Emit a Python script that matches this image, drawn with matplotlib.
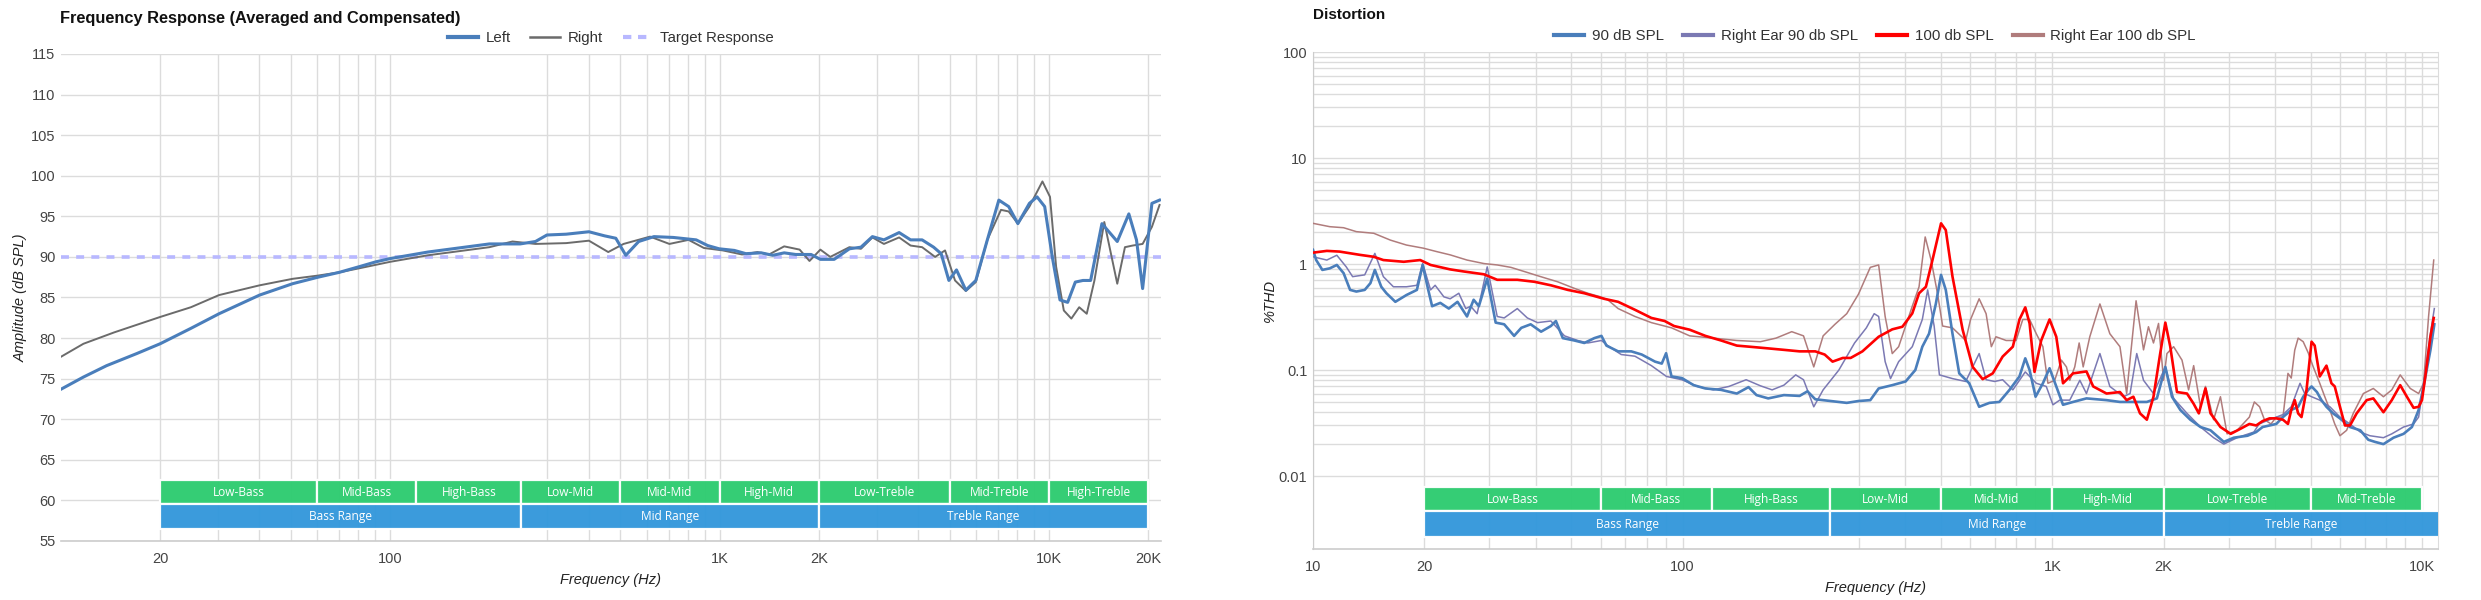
import numpy as np
import matplotlib
matplotlib.use("Agg")
import matplotlib.pyplot as plt
from matplotlib.patches import Rectangle
from matplotlib.ticker import FixedLocator, NullFormatter, FixedFormatter
from matplotlib.lines import Line2D

# ---------------- Frequency response data ----------------
fr_left_hz = [10, 11.7, 13.75, 17.0, 20, 24.8, 30.2, 40.1, 50.5, 60.3, 70.0, 80.5, 90.5, 100, 130, 200,
              248, 276, 299, 342, 401, 447, 484, 519, 568, 632, 723, 849, 920, 997, 1109, 1202, 1339,
              1450, 1571, 1703, 1896, 2023, 2228, 2479, 2687, 2911, 3155, 3509, 3802, 4121, 4466, 4708,
              4969, 5241, 5595, 5998, 6502, 7047, 7549, 8050, 8726, 9205, 9710, 10240, 10806, 11400,
              12030, 12690, 13390, 14490, 16130, 17490, 18450, 19260, 20550, 21680]
fr_left_db = [73.7, 75.2, 76.6, 78.1, 79.3, 81.2, 83.0, 85.3, 86.7, 87.5, 88.1, 88.8, 89.4, 89.8, 90.6, 91.6,
              91.6, 91.9, 92.7, 92.8, 93.1, 92.6, 92.3, 90.2, 91.9, 92.5, 92.4, 92.1, 91.4, 91.0, 90.8, 90.4, 90.5,
              90.2, 90.5, 90.3, 90.3, 89.7, 89.7, 91.0, 91.2, 92.5, 92.1, 93.0, 92.1, 92.1, 91.2, 90.4,
              87.1, 88.4, 85.9, 87.1, 92.1, 97.0, 96.2, 94.1, 96.6, 97.4, 96.2, 90.0, 84.7, 84.4,
              86.9, 87.1, 87.1, 94.1, 91.9, 95.3, 92.1, 86.1, 96.6, 97.0]

fr_right_hz = [10, 11.7, 14.5, 20, 24.8, 30.2, 40.1, 50.5, 60.3, 70.0, 80.5, 100, 130, 200, 235,
               276, 342, 401, 459, 511, 615, 704, 805, 896, 1023, 1170, 1303, 1413, 1571, 1750,
               1875, 2023, 2168, 2479, 2687, 2911, 3155, 3509, 3802, 4121, 4513, 4838, 5187, 5595, 5998,
               6502, 7153, 7549, 8050, 8726, 9558, 10077, 10518, 11100, 11700, 12360, 13030, 13750, 14730,
               16130, 17020, 17960, 19260, 20550, 21680]
fr_right_db = [77.7, 79.3, 80.7, 82.6, 83.8, 85.3, 86.5, 87.3, 87.7, 88.1, 88.6, 89.4, 90.2, 91.2, 91.9,
               91.6, 91.7, 92.0, 90.6, 91.6, 92.5, 91.6, 92.1, 91.1, 90.8, 90.3, 90.6, 90.3, 91.3, 90.9,
               89.5, 90.9, 90.0, 91.2, 91.0, 92.4, 91.6, 92.4, 91.4, 91.2, 90.0, 90.8, 87.1, 85.8, 86.9,
               92.1, 95.8, 95.6, 94.1, 96.2, 99.3, 97.4, 88.8, 83.4, 82.4, 83.8, 83.0, 87.1, 94.3,
               86.7, 91.2, 91.4, 91.6, 93.7, 96.4]

target_db = 90
fr_x_ticks = [20, 100, 1000, 2000, 10000, 20000]
fr_x_labels = ["20", "100", "1K", "2K", "10K", "20K"]
fr_y_ticks = list(range(55, 116, 5))

# ---------------- Distortion data ----------------
thd90_hz = [10, 10.2, 10.6, 11.1, 11.6, 12.1, 12.6, 13.1, 13.8, 14.3, 14.7, 15.3, 15.8, 16.7, 17.9, 19.1,
            19.8, 20.5, 21.0, 22.1, 23.3, 24.6, 26.1, 27.2, 28.1, 29.6, 31.2, 32.9, 35.0, 36.6, 38.8, 41.4,
            44.0, 45.4, 47.4, 50.9, 54.2, 57.7, 60.3, 62.2, 66.9, 72.6, 77.5, 84.2, 87.8, 90.2, 93.3,
            99.5, 107.1, 115.2, 127.0, 140.1, 150.7, 158.4, 170.4, 187.9, 207.2, 217.6, 228.4, 251.9,
            277.9, 299.0, 321.8,
            339, 369, 401, 426, 445, 464, 484, 500, 515, 537, 560, 596, 634, 676, 719, 766, 815, 845,
            868, 901, 943, 983, 1025, 1069, 1138, 1237, 1402, 1524, 1657, 1802, 1918, 2022, 2107, 2220,
            2362, 2517, 2679, 2910, 3097, 3374,
            3560, 3706, 3869, 4035, 4207, 4430, 4624, 4772, 4925, 5027, 5198, 5346, 5516, 5748, 6000,
            6386, 6811, 7157, 7461, 7866, 8376, 8916, 9393, 9794, 10100, 10540, 10800]
thd90_pct = [1.36, 1.09, 0.88, 0.91, 0.98, 0.82, 0.57, 0.55, 0.57, 0.66, 0.88, 0.61, 0.53, 0.44, 0.51, 0.57,
             0.98, 0.57, 0.40, 0.43, 0.38, 0.44, 0.32, 0.46, 0.40, 0.73, 0.28, 0.27, 0.21, 0.25, 0.27, 0.23,
             0.26, 0.29, 0.20, 0.19, 0.18, 0.20, 0.21, 0.17, 0.15, 0.15, 0.14, 0.12, 0.115, 0.144, 0.087,
             0.084, 0.072, 0.067, 0.065, 0.060, 0.069, 0.058, 0.054, 0.058, 0.057, 0.063, 0.053, 0.051,
             0.049, 0.051, 0.052,
             0.067, 0.072, 0.078, 0.10, 0.166, 0.22, 0.42, 0.79, 0.57, 0.22, 0.093, 0.075, 0.045, 0.049, 0.050,
             0.065, 0.087, 0.129, 0.10, 0.056, 0.075, 0.104, 0.070, 0.047, 0.050, 0.054, 0.052, 0.050,
             0.050, 0.050, 0.054, 0.107, 0.056, 0.042, 0.034, 0.029, 0.027, 0.021, 0.023, 0.024,
             0.026, 0.029, 0.030, 0.031, 0.036, 0.042, 0.045, 0.056, 0.065, 0.070, 0.062, 0.052, 0.045,
             0.039, 0.035, 0.029, 0.027, 0.022, 0.021, 0.020, 0.023, 0.025, 0.029, 0.042, 0.070, 0.154, 0.27]

thd90r_hz = [10, 10.9, 11.6, 12.3, 12.8, 13.8, 14.7, 15.5, 16.5, 17.9, 19.1, 19.8, 20.8, 21.4, 22.6,
             23.5, 24.8, 25.9, 26.7, 27.8, 29.6, 31.5, 32.9, 35.7, 38.0, 40.5, 44.0, 47.9, 52.0, 55.4,
             60.3, 62.7, 68.2, 74.3, 82.3, 90.4,
             99.5, 109.7, 121.0, 133.4, 148.5, 162.3, 174.6, 187.9, 202.2, 212.3, 226.3, 239.9, 264.6,
             291.8, 314.0, 329.7,
             339, 353, 365, 384, 418, 445, 460, 479, 495, 537, 583, 634, 662, 698, 734, 782, 845, 905,
             963, 1004, 1047, 1115, 1187, 1237, 1345, 1431, 1557, 1623, 1692, 1765, 1878, 2022, 2129,
             2314, 2517, 2731, 2910, 3162, 3510,
             3627, 3869, 4207, 4430, 4678, 4817, 5027, 5291, 5635, 6000, 6386, 6811, 7230, 7866, 8286,
             8916, 9491, 9794, 10100, 10540, 10800]
thd90r_pct = [1.17, 1.09, 1.21, 0.94, 0.76, 0.79, 1.26, 0.76, 0.61, 0.61, 0.63, 1.01, 0.57, 0.63, 0.49,
              0.47, 0.53, 0.38, 0.40, 0.34, 0.94, 0.32, 0.31, 0.38, 0.31, 0.28, 0.29, 0.21, 0.19, 0.18,
              0.19, 0.17, 0.14, 0.135, 0.11, 0.087,
              0.081, 0.070, 0.065, 0.070, 0.081, 0.071, 0.065, 0.072, 0.090, 0.081, 0.045, 0.065, 0.10,
              0.18, 0.25, 0.34,
              0.32, 0.12, 0.083, 0.12, 0.166, 0.30, 0.57, 0.26, 0.09, 0.083, 0.078, 0.143, 0.081, 0.078,
              0.081, 0.065, 0.096, 0.075, 0.070, 0.047, 0.052, 0.052, 0.080, 0.060, 0.143, 0.070, 0.056,
              0.060, 0.143, 0.080, 0.060, 0.107, 0.054, 0.039, 0.029, 0.023, 0.020, 0.023, 0.026,
              0.031, 0.034, 0.038, 0.045, 0.075, 0.060, 0.056, 0.052, 0.045, 0.036, 0.031, 0.026, 0.024,
              0.023, 0.025, 0.029, 0.031, 0.036, 0.075, 0.22, 0.38]

thd100_hz = [10, 10.9, 11.8, 13.4, 14.6, 15.5, 17.6, 19.5, 20.8, 23.5, 25.6, 29.0, 31.5, 35.7, 39.7,
             44.0, 48.9, 54.2, 61.3, 66.9, 74.3, 82.3, 89.4,
             94.8, 104.5, 115.2, 127.0, 140.1, 154.5, 170.4, 187.9, 207.2, 228.4, 242.2, 254.4, 271.2,
             284.7, 306.4,
             339, 369, 393, 418, 436, 455, 474, 500, 515, 537, 572, 609, 648, 690, 734, 782, 815, 845,
             868, 895, 933, 983, 1025, 1069, 1138, 1237, 1290, 1402, 1524, 1589, 1657, 1727, 1802, 1878,
             1958, 2022, 2085, 2174, 2314, 2412, 2491, 2596, 2679, 2850, 3038, 3234,
             3413, 3560, 3706, 3869, 4035, 4207, 4340, 4430, 4527, 4624, 4722, 4872, 5027, 5126, 5291,
             5516, 5689, 5808, 6000, 6190, 6386, 6657, 7085, 7386, 7866, 8286, 8732, 9103, 9491, 9794,
             10000, 10210, 10540, 10760]
thd100_pct = [1.28, 1.33, 1.31, 1.22, 1.17, 1.09, 1.05, 1.09, 0.98, 0.89, 0.85, 0.80, 0.71, 0.71, 0.68,
              0.63, 0.57, 0.53, 0.47, 0.44, 0.37, 0.31, 0.29,
              0.26, 0.24, 0.21, 0.19, 0.17, 0.165, 0.16, 0.155, 0.15, 0.15, 0.14, 0.12, 0.13,
              0.13, 0.15,
              0.206, 0.242, 0.256, 0.342, 0.53, 0.61, 1.09, 2.42, 2.09, 0.76, 0.24, 0.107, 0.082, 0.093,
              0.134, 0.166, 0.30, 0.39, 0.275, 0.096, 0.19, 0.30, 0.206, 0.075, 0.093, 0.097, 0.070, 0.060,
              0.062, 0.052, 0.056, 0.039, 0.034, 0.056, 0.143, 0.28, 0.166, 0.062, 0.060, 0.048, 0.039,
              0.067, 0.039, 0.029, 0.025, 0.028,
              0.031, 0.030, 0.033, 0.035, 0.035, 0.034, 0.031, 0.042, 0.052, 0.039, 0.036, 0.065, 0.185,
              0.17, 0.087, 0.11, 0.075, 0.070, 0.045, 0.030, 0.030, 0.039, 0.052, 0.054, 0.040, 0.052,
              0.072, 0.056, 0.044, 0.045, 0.052, 0.087, 0.206, 0.31]

thd100r_hz = [10, 11.1, 12.1, 13.1, 14.6, 16.2, 17.9, 19.9, 21.6, 23.5, 26.1, 29.0, 31.5, 34.3, 38.1,
              41.3, 45.9, 50.9, 55.4, 60.0, 62.7, 66.9, 74.3, 82.3, 93.3,
              104.5, 121.0, 140.1, 162.3, 178.9, 197.3, 212.3, 226.3, 239.9, 258.2, 277.9, 299.0, 321.8,
              339, 353, 369, 384, 418, 436, 453, 470, 489, 505, 537, 583, 601, 634, 662, 684, 704, 750,
              798, 832, 868, 905, 943, 973, 1015, 1058, 1092, 1115, 1150, 1182, 1212, 1263, 1345, 1431,
              1524, 1589, 1685, 1765, 1820, 1878, 1938, 2000, 2042, 2129, 2243, 2337, 2412, 2517, 2596,
              2731, 2850, 2970, 3162, 3413,
              3520, 3637, 3748, 3905, 4035, 4207, 4340, 4430, 4527, 4624, 4772, 4925, 5075, 5291, 5459,
              5635, 5808, 6000, 6254, 6518, 6941, 7386, 7866, 8286, 8732, 9296, 9794, 10100, 10420, 10760]
thd100r_pct = [2.42, 2.25, 2.20, 2.02, 1.95, 1.68, 1.51, 1.41, 1.31, 1.22, 1.09, 1.01, 0.98, 0.93, 0.83,
               0.76, 0.68, 0.59, 0.53, 0.49, 0.46, 0.38, 0.32, 0.28, 0.25,
               0.21, 0.20, 0.19, 0.185, 0.20, 0.23, 0.21, 0.107, 0.21, 0.27, 0.34, 0.52, 0.93,
               0.98, 0.32, 0.143, 0.166, 0.40, 0.61, 1.8, 1.09, 0.53, 0.26, 0.25, 0.19, 0.30, 0.47, 0.34,
               0.166, 0.206, 0.19, 0.19, 0.30, 0.30, 0.22, 0.166, 0.075, 0.080, 0.124, 0.107, 0.080, 0.107,
               0.18, 0.107, 0.206, 0.42, 0.22, 0.166, 0.060, 0.45, 0.155, 0.256, 0.18, 0.275, 0.080, 0.143,
               0.166, 0.124, 0.065, 0.11, 0.045, 0.07, 0.034, 0.056, 0.025, 0.027, 0.036,
               0.050, 0.045, 0.034, 0.031, 0.036, 0.036, 0.093, 0.084, 0.154, 0.20, 0.185, 0.145, 0.108,
               0.075, 0.056, 0.042, 0.031, 0.024, 0.027, 0.039, 0.060, 0.067, 0.056, 0.065, 0.090, 0.067,
               0.060, 0.075, 0.32, 1.09]

thd_x_ticks = [10, 20, 100, 1000, 2000, 10000]
thd_x_labels = ["10", "20", "100", "1K", "2K", "10K"]
thd_y_ticks = [0.01, 0.1, 1, 10, 100]
thd_y_labels = ["0.01", "0.1", "1", "10", "100"]

# ---------------- Range bands ----------------
band_names = ["Low-Bass", "Mid-Bass", "High-Bass", "Low-Mid", "Mid-Mid", "High-Mid",
              "Low-Treble", "Mid-Treble", "High-Treble"]
band_edges = [20, 60, 120, 250, 500, 1000, 2000, 5000, 10000, 20000]
range_names = ["Bass Range", "Mid Range", "Treble Range"]
range_edges = [20, 250, 2000, 20000]

# ---------------- Styling ----------------
FONT = ["Liberation Sans", "DejaVu Sans"]
plt.rcParams["font.family"] = FONT
GRID = "#dcdcdc"
TICKC = "#444444"
GREEN = "#2ecc71"
BLUE = "#3498db"

W, H = 2481, 600
fig = plt.figure(figsize=(W / 100, H / 100), dpi=100)
fig.patch.set_facecolor("white")

ax1 = fig.add_axes([61 / W, 1 - 541 / H, 1100 / W, 487 / H])
ax2 = fig.add_axes([1313 / W, 1 - 549 / H, 1125 / W, 497 / H])


def style_axes(ax):
    for s in ["top", "right", "left"]:
        ax.spines[s].set_visible(False)
    ax.spines["bottom"].set_color("#cccccc")
    ax.spines["bottom"].set_linewidth(1.2)
    ax.tick_params(which="both", length=0, colors=TICKC, labelsize=10.5)
    ax.tick_params(axis="x", pad=8)
    ax.tick_params(axis="y", pad=4)
    ax.grid(True, which="both", color=GRID, linewidth=1.0)
    ax.set_axisbelow(True)


def draw_bands(ax, xmax, names, edges, rnames, redges, max_band):
    tr = ax.get_xaxis_transform()
    for i in range(max_band):
        x0, x1 = edges[i], edges[i + 1]
        ax.add_patch(Rectangle((x0, 0.0755), x1 - x0, 0.0495, transform=tr, facecolor=GREEN,
                               edgecolor="white", linewidth=1.6, alpha=0.97, zorder=3))
        xc = np.sqrt(x0 * x1)
        ax.text(xc, 0.1, names[i], transform=tr, ha="center", va="center", color="white",
                fontsize=8.6, family=["Open Sans", "DejaVu Sans"], zorder=4)
    for i in range(len(rnames)):
        x0, x1 = redges[i], redges[i + 1]
        ax.add_patch(Rectangle((x0, 0.0246), x1 - x0, 0.0509, transform=tr, facecolor=BLUE,
                               edgecolor="white", linewidth=1.6, alpha=0.97, zorder=3))
        xc = np.sqrt(x0 * min(x1, xmax))
        ax.text(xc, 0.05, rnames[i], transform=tr, ha="center", va="center", color="white",
                fontsize=8.6, family=["Open Sans", "DejaVu Sans"], zorder=4)


# ---------------- Left chart ----------------
style_axes(ax1)
ax1.set_xscale("log")
ax1.set_xlim(10, 21900)
ax1.set_ylim(55, 115)
ax1.xaxis.set_major_locator(FixedLocator(fr_x_ticks))
ax1.xaxis.set_major_formatter(FixedFormatter(fr_x_labels))
ax1.xaxis.set_minor_locator(FixedLocator([k * 10 ** e for e in (1, 2, 3) for k in range(3, 10)]))
ax1.xaxis.set_minor_formatter(NullFormatter())
ax1.yaxis.set_major_locator(FixedLocator(fr_y_ticks))
ax1.yaxis.set_minor_locator(FixedLocator([]))

ax1.axhline(target_db, color="#b8b8ff", linewidth=2.6, linestyle=(0, (2.2, 2.0)), zorder=5)
ax1.plot(fr_right_hz, fr_right_db, color="#6b6b6b", linewidth=1.4, zorder=6)
ax1.plot(fr_left_hz, fr_left_db, color="#4a7ebb", linewidth=2.2, zorder=7)
draw_bands(ax1, 21900, band_names, band_edges, range_names, range_edges, 9)

ax1.set_xlabel("Frequency (Hz)", fontsize=10.5, fontstyle="italic", color="#222222", labelpad=5)
ax1.set_ylabel("Amplitude (dB SPL)", fontsize=10.5, fontstyle="italic", color="#222222", labelpad=2)

fig.text(60 / W, 1 - 19 / H, "Frequency Response (Averaged and Compensated)", fontsize=11.8,
         fontweight="bold", va="center", ha="left", color="#111111")
h1 = [Line2D([], [], color="#4a7ebb", linewidth=3),
      Line2D([], [], color="#6b6b6b", linewidth=1.8),
      Line2D([], [], color="#b8b8ff", linewidth=3, linestyle=(0, (2, 1.6)))]
fig.legend(h1, ["Left", "Right", "Target Response"], loc="center", ncol=3, frameon=False,
           bbox_to_anchor=(611 / W, 1 - 38 / H), fontsize=10.8, handlelength=2.0,
           columnspacing=1.3, handletextpad=0.5, labelcolor="#333333")

# ---------------- Right chart ----------------
style_axes(ax2)
ax2.spines["left"].set_visible(True)
ax2.spines["left"].set_color("#cccccc")
ax2.spines["right"].set_visible(True)
ax2.spines["right"].set_color(GRID)
ax2.set_xscale("log")
ax2.set_yscale("log")
ax2.set_xlim(10, 11050)
ax2.set_ylim(0.00205, 100)
ax2.xaxis.set_major_locator(FixedLocator(thd_x_ticks))
ax2.xaxis.set_major_formatter(FixedFormatter(thd_x_labels))
ax2.xaxis.set_minor_locator(FixedLocator([k * 10 ** e for e in (1, 2, 3) for k in range(3, 10)]))
ax2.xaxis.set_minor_formatter(NullFormatter())
ax2.yaxis.set_major_locator(FixedLocator(thd_y_ticks))
ax2.yaxis.set_major_formatter(FixedFormatter(thd_y_labels))
ax2.yaxis.set_minor_locator(FixedLocator([k * 10.0 ** e for e in (-2, -1, 0, 1) for k in range(2, 10)]))
ax2.yaxis.set_minor_formatter(NullFormatter())

ax2.plot(thd100r_hz, thd100r_pct, color="#b07c7c", linewidth=1.1, zorder=5)
ax2.plot(thd90r_hz, thd90r_pct, color="#7b79b3", linewidth=1.1, zorder=6)
ax2.plot(thd90_hz, thd90_pct, color="#4a7ebb", linewidth=1.9, zorder=7)
ax2.plot(thd100_hz, thd100_pct, color="#ff0000", linewidth=1.9, zorder=8)
draw_bands(ax2, 11050, band_names, band_edges, range_names, range_edges, 8)

ax2.set_xlabel("Frequency (Hz)", fontsize=10.5, fontstyle="italic", color="#222222", labelpad=5)
ax2.set_ylabel("%THD", fontsize=10.5, fontstyle="italic", color="#222222", labelpad=1)

fig.text(1313 / W, 1 - 15 / H, "Distortion", fontsize=11, fontweight="bold", va="center",
         ha="left", color="#111111")
h2 = [Line2D([], [], color="#4a7ebb", linewidth=3),
      Line2D([], [], color="#7b79b3", linewidth=3),
      Line2D([], [], color="#ff0000", linewidth=3),
      Line2D([], [], color="#b07c7c", linewidth=3)]
fig.legend(h2, ["90 dB SPL", "Right Ear 90 db SPL", "100 db SPL", "Right Ear 100 db SPL"],
           loc="center", ncol=4, frameon=False, bbox_to_anchor=(1875 / W, 1 - 36 / H), fontsize=10.8,
           handlelength=2.0, columnspacing=1.3, handletextpad=0.5, labelcolor="#333333")

fig.savefig("out.png", dpi=100, facecolor="white")
